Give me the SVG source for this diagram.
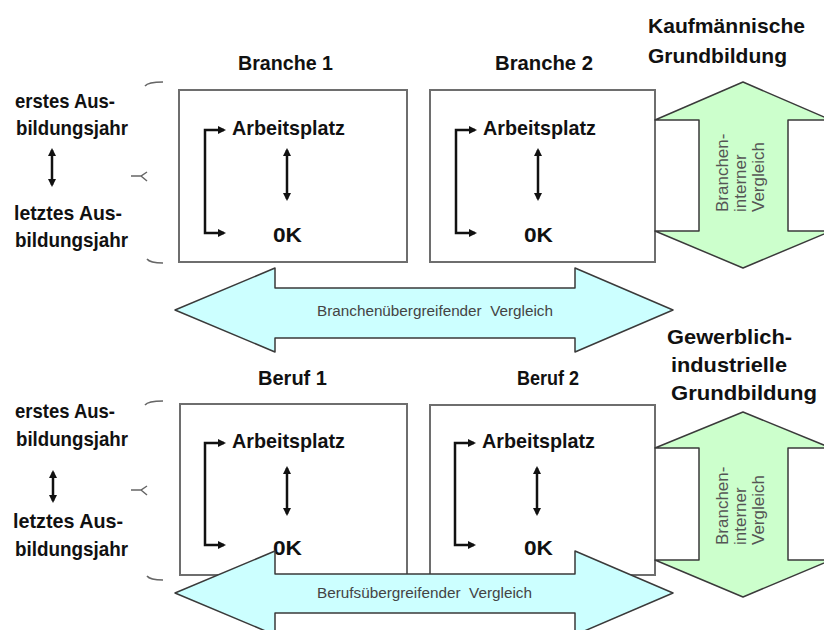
<svg xmlns="http://www.w3.org/2000/svg" width="824" height="630" viewBox="0 0 824 630">
<defs>
<style>
.b{font-family:"Liberation Sans",Arial,sans-serif;font-weight:bold;font-size:20.5px;fill:#111}
.r{font-family:"Liberation Sans",Arial,sans-serif;font-size:15.5px;fill:#444}
.v{font-family:"Liberation Sans",Arial,sans-serif;font-size:17px;fill:#555}
.box{fill:#fff;stroke:#6e6e6e;stroke-width:2}
.cy{fill:#ccffff;stroke:#3a3a3a;stroke-width:1.5;stroke-linejoin:round}
.gr{fill:#ccffcc;stroke:#3a3a3a;stroke-width:1.5;stroke-linejoin:round}
.ar{fill:none;stroke:#111;stroke-width:2.5;marker-start:url(#ah);marker-end:url(#ah)}
.br{fill:none;stroke:#666;stroke-width:1.5}
</style>
<marker id="ah" viewBox="0 0 8 8" refX="6" refY="4" markerWidth="8" markerHeight="8" markerUnits="userSpaceOnUse" orient="auto-start-reverse">
<path d="M0,0 L8,4 L0,8 z" fill="#111"/>
</marker>
</defs>
<rect width="824" height="630" fill="#fff"/>

<g id="left-top">
<text class="b" x="15" y="108" textLength="100" lengthAdjust="spacingAndGlyphs">erstes Aus-</text>
<text class="b" x="16" y="135" textLength="112" lengthAdjust="spacingAndGlyphs">bildungsjahr</text>
<text class="b" x="14" y="220" textLength="108" lengthAdjust="spacingAndGlyphs">letztes Aus-</text>
<text class="b" x="15" y="247" textLength="113" lengthAdjust="spacingAndGlyphs">bildungsjahr</text>
<path class="br" d="M145,86 Q148,82 163,82 M131,176 L141,176 L147,172 M141,176 L147,181 M147,259 Q150,263 163,263"/>
</g>
<g id="left-bottom">
<text class="b" x="15" y="418" textLength="100" lengthAdjust="spacingAndGlyphs">erstes Aus-</text>
<text class="b" x="16" y="446" textLength="112" lengthAdjust="spacingAndGlyphs">bildungsjahr</text>
<text class="b" x="13" y="528" textLength="110" lengthAdjust="spacingAndGlyphs">letztes Aus-</text>
<text class="b" x="15" y="556" textLength="113" lengthAdjust="spacingAndGlyphs">bildungsjahr</text>
<path class="br" d="M145,405 Q148,401 163,401 M131,490 L141,490 L147,486 M141,490 L147,495 M147,576 Q150,580 163,580"/>
</g>

<g id="headers">
<text class="b" x="238" y="70" textLength="95" lengthAdjust="spacingAndGlyphs">Branche 1</text>
<text class="b" x="495" y="70" textLength="98" lengthAdjust="spacingAndGlyphs">Branche 2</text>
<text class="b" x="258" y="385" textLength="69" lengthAdjust="spacingAndGlyphs">Beruf 1</text>
<text class="b" x="517" y="385" textLength="62" lengthAdjust="spacingAndGlyphs">Beruf 2</text>
<text class="b" x="648" y="33" textLength="157" lengthAdjust="spacingAndGlyphs">Kaufmännische</text>
<text class="b" x="648" y="63" textLength="139" lengthAdjust="spacingAndGlyphs">Grundbildung</text>
<text class="b" x="667" y="344" textLength="125" lengthAdjust="spacingAndGlyphs">Gewerblich-</text>
<text class="b" x="671" y="372" textLength="116" lengthAdjust="spacingAndGlyphs">industrielle</text>
<text class="b" x="671" y="400" textLength="146" lengthAdjust="spacingAndGlyphs">Grundbildung</text>
</g>

<g id="branche1">
<rect class="box" x="179" y="90" width="228" height="172"/>
<text class="b" x="232" y="135" textLength="113" lengthAdjust="spacingAndGlyphs">Arbeitsplatz</text>
<text class="b" x="273" y="242" textLength="29" lengthAdjust="spacingAndGlyphs">0K</text>
</g>
<g id="branche2">
<rect class="box" x="430" y="90" width="225" height="172"/>
<text class="b" x="483" y="135" textLength="113" lengthAdjust="spacingAndGlyphs">Arbeitsplatz</text>
<text class="b" x="524" y="242" textLength="29" lengthAdjust="spacingAndGlyphs">0K</text>
</g>
<g id="beruf1">
<rect class="box" x="180" y="404" width="227" height="171"/>
<text class="b" x="232" y="448" textLength="113" lengthAdjust="spacingAndGlyphs">Arbeitsplatz</text>
<text class="b" x="273" y="555" textLength="29" lengthAdjust="spacingAndGlyphs">0K</text>
</g>
<g id="beruf2">
<rect class="box" x="430" y="405" width="225" height="170"/>
<text class="b" x="482" y="448" textLength="113" lengthAdjust="spacingAndGlyphs">Arbeitsplatz</text>
<text class="b" x="524" y="555" textLength="29" lengthAdjust="spacingAndGlyphs">0K</text>
</g>

<g id="green-top">
<path class="gr" d="M743,82 L831,120 L788,120 L788,231 L831,231 L743,268 L655,231 L699,231 L699,120 L655,120 Z"/>
<text class="v" transform="translate(728,212) rotate(-90)">Branchen-</text>
<text class="v" transform="translate(746,212) rotate(-90)">interner</text>
<text class="v" transform="translate(764,212) rotate(-90)">Vergleich</text>
</g>
<g id="green-bottom">
<path class="gr" d="M743,412 L831,448 L788,448 L788,560 L831,560 L743,597 L655,560 L699,560 L699,448 L655,448 Z"/>
<text class="v" transform="translate(728,545) rotate(-90)">Branchen-</text>
<text class="v" transform="translate(746,545) rotate(-90)">interner</text>
<text class="v" transform="translate(764,545) rotate(-90)">Vergleich</text>
</g>

<g id="cyan-top">
<path class="cy" d="M175,310 L275,268 L275,288 L575,288 L575,268 L673,310 L575,352 L575,338 L275,338 L275,352 Z"/>
<text class="r" x="317" y="316" textLength="236" lengthAdjust="spacingAndGlyphs" xml:space="preserve">Branchenübergreifender  Vergleich</text>
</g>
<g id="cyan-bottom">
<path class="cy" d="M175,593 L275,551 L275,574 L575,574 L575,551 L673,593 L575,635 L575,613 L275,613 L275,635 Z"/>
<text class="r" x="317" y="598" textLength="215" lengthAdjust="spacingAndGlyphs" xml:space="preserve">Berufsübergreifender  Vergleich</text>
</g>

<g id="connectors">
<line class="ar" x1="52" y1="150" x2="52" y2="185"/>
<line class="ar" x1="53" y1="472" x2="53" y2="501"/>
<path class="ar" d="M224,130 H205 V233 H224"/>
<line class="ar" x1="287" y1="150" x2="287" y2="199"/>
<path class="ar" d="M475,130 H456 V233 H475"/>
<line class="ar" x1="538" y1="150" x2="538" y2="199"/>
<path class="ar" d="M224,443 H205 V545 H224"/>
<line class="ar" x1="287" y1="468" x2="287" y2="514"/>
<path class="ar" d="M474,443 H455 V545 H474"/>
<line class="ar" x1="537" y1="468" x2="537" y2="514"/>
</g>
</svg>
